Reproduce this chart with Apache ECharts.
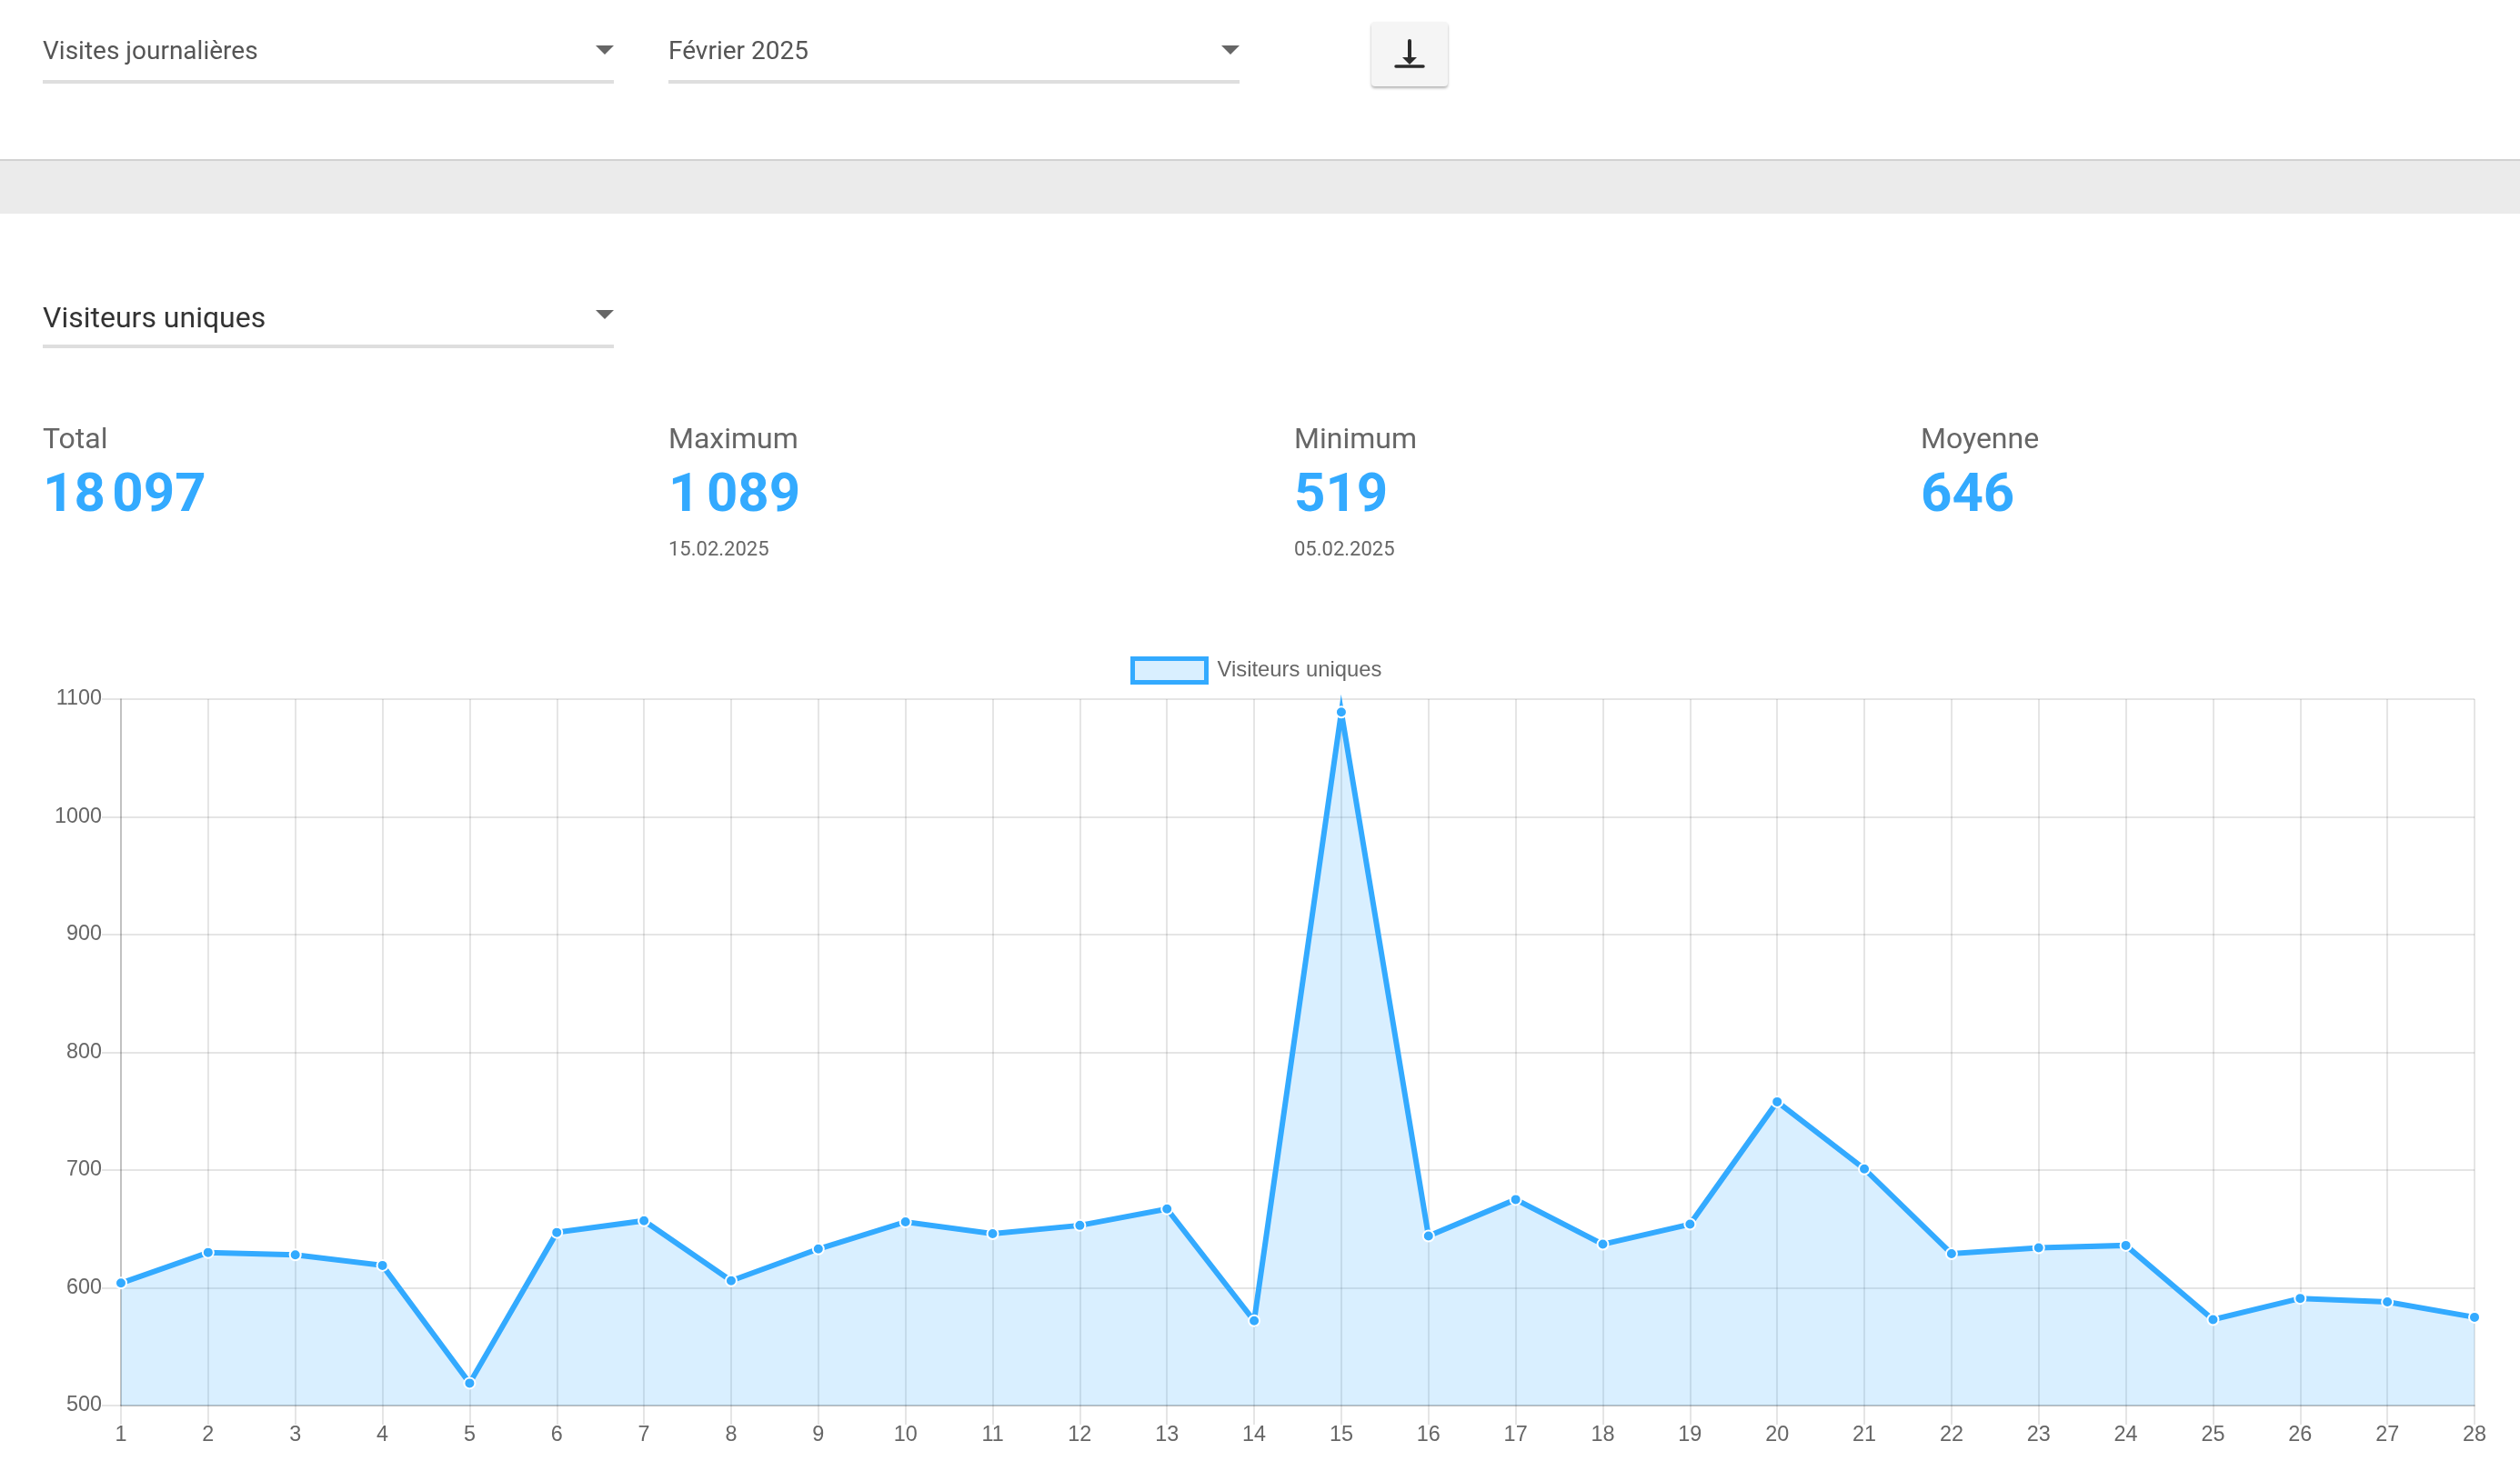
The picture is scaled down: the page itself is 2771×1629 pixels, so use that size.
<!DOCTYPE html>
<html lang="fr">
<head>
<meta charset="utf-8">
<title>Visiteurs uniques</title>
<script src="https://cdn.jsdelivr.net/npm/echarts@6/dist/echarts.min.js"></script>
<style>
html,body{margin:0;padding:0;background:#fff;overflow:hidden}
#page{position:relative;width:2771px;height:1629px;overflow:hidden}
#chart{position:absolute;left:0;top:0;width:2771px;height:1629px}
.t{position:absolute;font-family:Roboto,sans-serif;white-space:nowrap;line-height:normal}
.u{position:absolute;height:4px;background:#dedede}
.a{position:absolute;width:0;height:0;border-left:10px solid transparent;border-right:10px solid transparent;border-top:10px solid #666}
#band{position:absolute;left:0;top:175px;width:2771px;height:60px;background:#ebebeb;border-top:2px solid #d2d2d2;box-sizing:border-box}
#btn{position:absolute;left:1508px;top:24px;width:84px;height:71px;background:#f5f5f5;border-radius:4px;box-shadow:0 2px 3px rgba(0,0,0,.3)}
</style>
</head>
<body>
<div id="page">
  <div id="chart"></div>
  <div id="band"></div>
  <div id="btn"><svg width="84" height="71" viewBox="0 0 84 71">
    <path d="M42 21V40" stroke="#2b2b2b" stroke-width="4" stroke-linecap="round"/>
    <path d="M34 39H50L42 47Z" fill="#2b2b2b"/>
    <path d="M27 49H57" stroke="#2b2b2b" stroke-width="3.5" stroke-linecap="round"/>
  </svg></div>
</div>
<script>
const days = ['1','2','3','4','5','6','7','8','9','10','11','12','13','14','15','16','17','18','19','20','21','22','23','24','25','26','27','28'];
const visitors = [604,630,628,619,519,647,657,606,633,656,646,653,667,572,1089,644,675,637,654,758,701,629,634,636,573,591,588,575];
const seriesName = 'Visiteurs uniques';
const statLabels = ['Total','Maximum','Minimum','Moyenne'];
const statValues = ['18\u202F097','1\u202F089','519','646'];
const statDates = ['','15.02.2025','05.02.2025',''];
const selectors = ['Visites journalières','Février 2025'];

const page = document.getElementById('page');
function text(str, x, baseline, size, color, weight){
  const d = document.createElement('div');
  d.className = 't';
  d.textContent = str;
  d.style.cssText = `left:${x}px;top:${baseline - size*0.927}px;font-size:${size}px;color:${color};font-weight:${weight||400}`;
  page.appendChild(d);
}
function select(str, x, width, baseline, lineY, arrowY, size, color){
  text(str, x, baseline, size, color);
  const u = document.createElement('div');
  u.className = 'u';
  u.style.cssText = `left:${x}px;top:${lineY}px;width:${width}px`;
  page.appendChild(u);
  const a = document.createElement('div');
  a.className = 'a';
  a.style.cssText = `left:${x+width-20}px;top:${arrowY}px`;
  page.appendChild(a);
}
select(selectors[0], 47, 628, 65, 88, 50, 28, '#555');
select(selectors[1], 735, 628, 65, 88, 50, 28, '#555');
select(seriesName, 47, 628, 360, 379, 341, 32, '#333');

const statX = [47,735,1423,2112];
statLabels.forEach((l,i)=>{
  text(l, statX[i], 493, 32, '#666');
  text(statValues[i], statX[i], 562, 60, '#33aaff', 700);
  if(statDates[i]) text(statDates[i], statX[i], 611, 22, '#666');
});

const blue = '#33aaff';
const fill = 'rgba(51,170,255,0.19)';
const font = '"Liberation Sans", Helvetica, Arial, sans-serif';
const grid = 'rgba(0,0,0,0.1)';
const chart = echarts.init(document.getElementById('chart'), null, {renderer:'canvas'});
chart.setOption({
  animation:false,
  backgroundColor:'transparent',
  legend:{
    show:true, left:1243, top:722, padding:0,
    icon:'rect', itemWidth:81, itemHeight:26,
    itemStyle:{color:fill, borderColor:blue, borderWidth:5, opacity:1},
    lineStyle:{opacity:0},
    textStyle:{color:'#666', fontFamily:font, fontSize:23.8, padding:[2,0,0,7]},
    data:[seriesName]
  },
  grid:{left:133, right:50, top:769, bottom:83, containLabel:false},
  xAxis:{
    type:'category', data:days, boundaryGap:false,
    axisLine:{show:true, lineStyle:{color:'rgba(0,0,0,0.16)', width:2}},
    axisTick:{show:true, alignWithLabel:true, length:21, lineStyle:{color:grid, width:2}},
    axisLabel:{interval:0, color:'#666', fontFamily:font, fontSize:23.4, margin:21, hideOverlap:false},
    splitLine:{show:true, interval:0, lineStyle:{color:grid, width:2}}
  },
  yAxis:{
    type:'value', min:500, max:1100, interval:100,
    axisLine:{show:true, lineStyle:{color:'rgba(0,0,0,0.16)', width:2}},
    axisTick:{show:true, length:21, lineStyle:{color:grid, width:2}},
    axisLabel:{color:'#666', fontFamily:font, fontSize:23.4, margin:21, padding:[2,0,0,0], formatter:(v)=>String(v)},
    splitLine:{show:true, lineStyle:{color:grid, width:2}}
  },
  series:[{
    name:seriesName, type:'line', data:visitors, clip:false,
    symbol:'circle', symbolSize:12, showSymbol:true, showAllSymbol:true,
    itemStyle:{color:blue, borderColor:'#fff', borderWidth:2},
    lineStyle:{color:blue, width:6, join:'miter', miterLimit:10},
    areaStyle:{color:fill, opacity:1, origin:'start'}
  }]
});
</script>
</body>
</html>
